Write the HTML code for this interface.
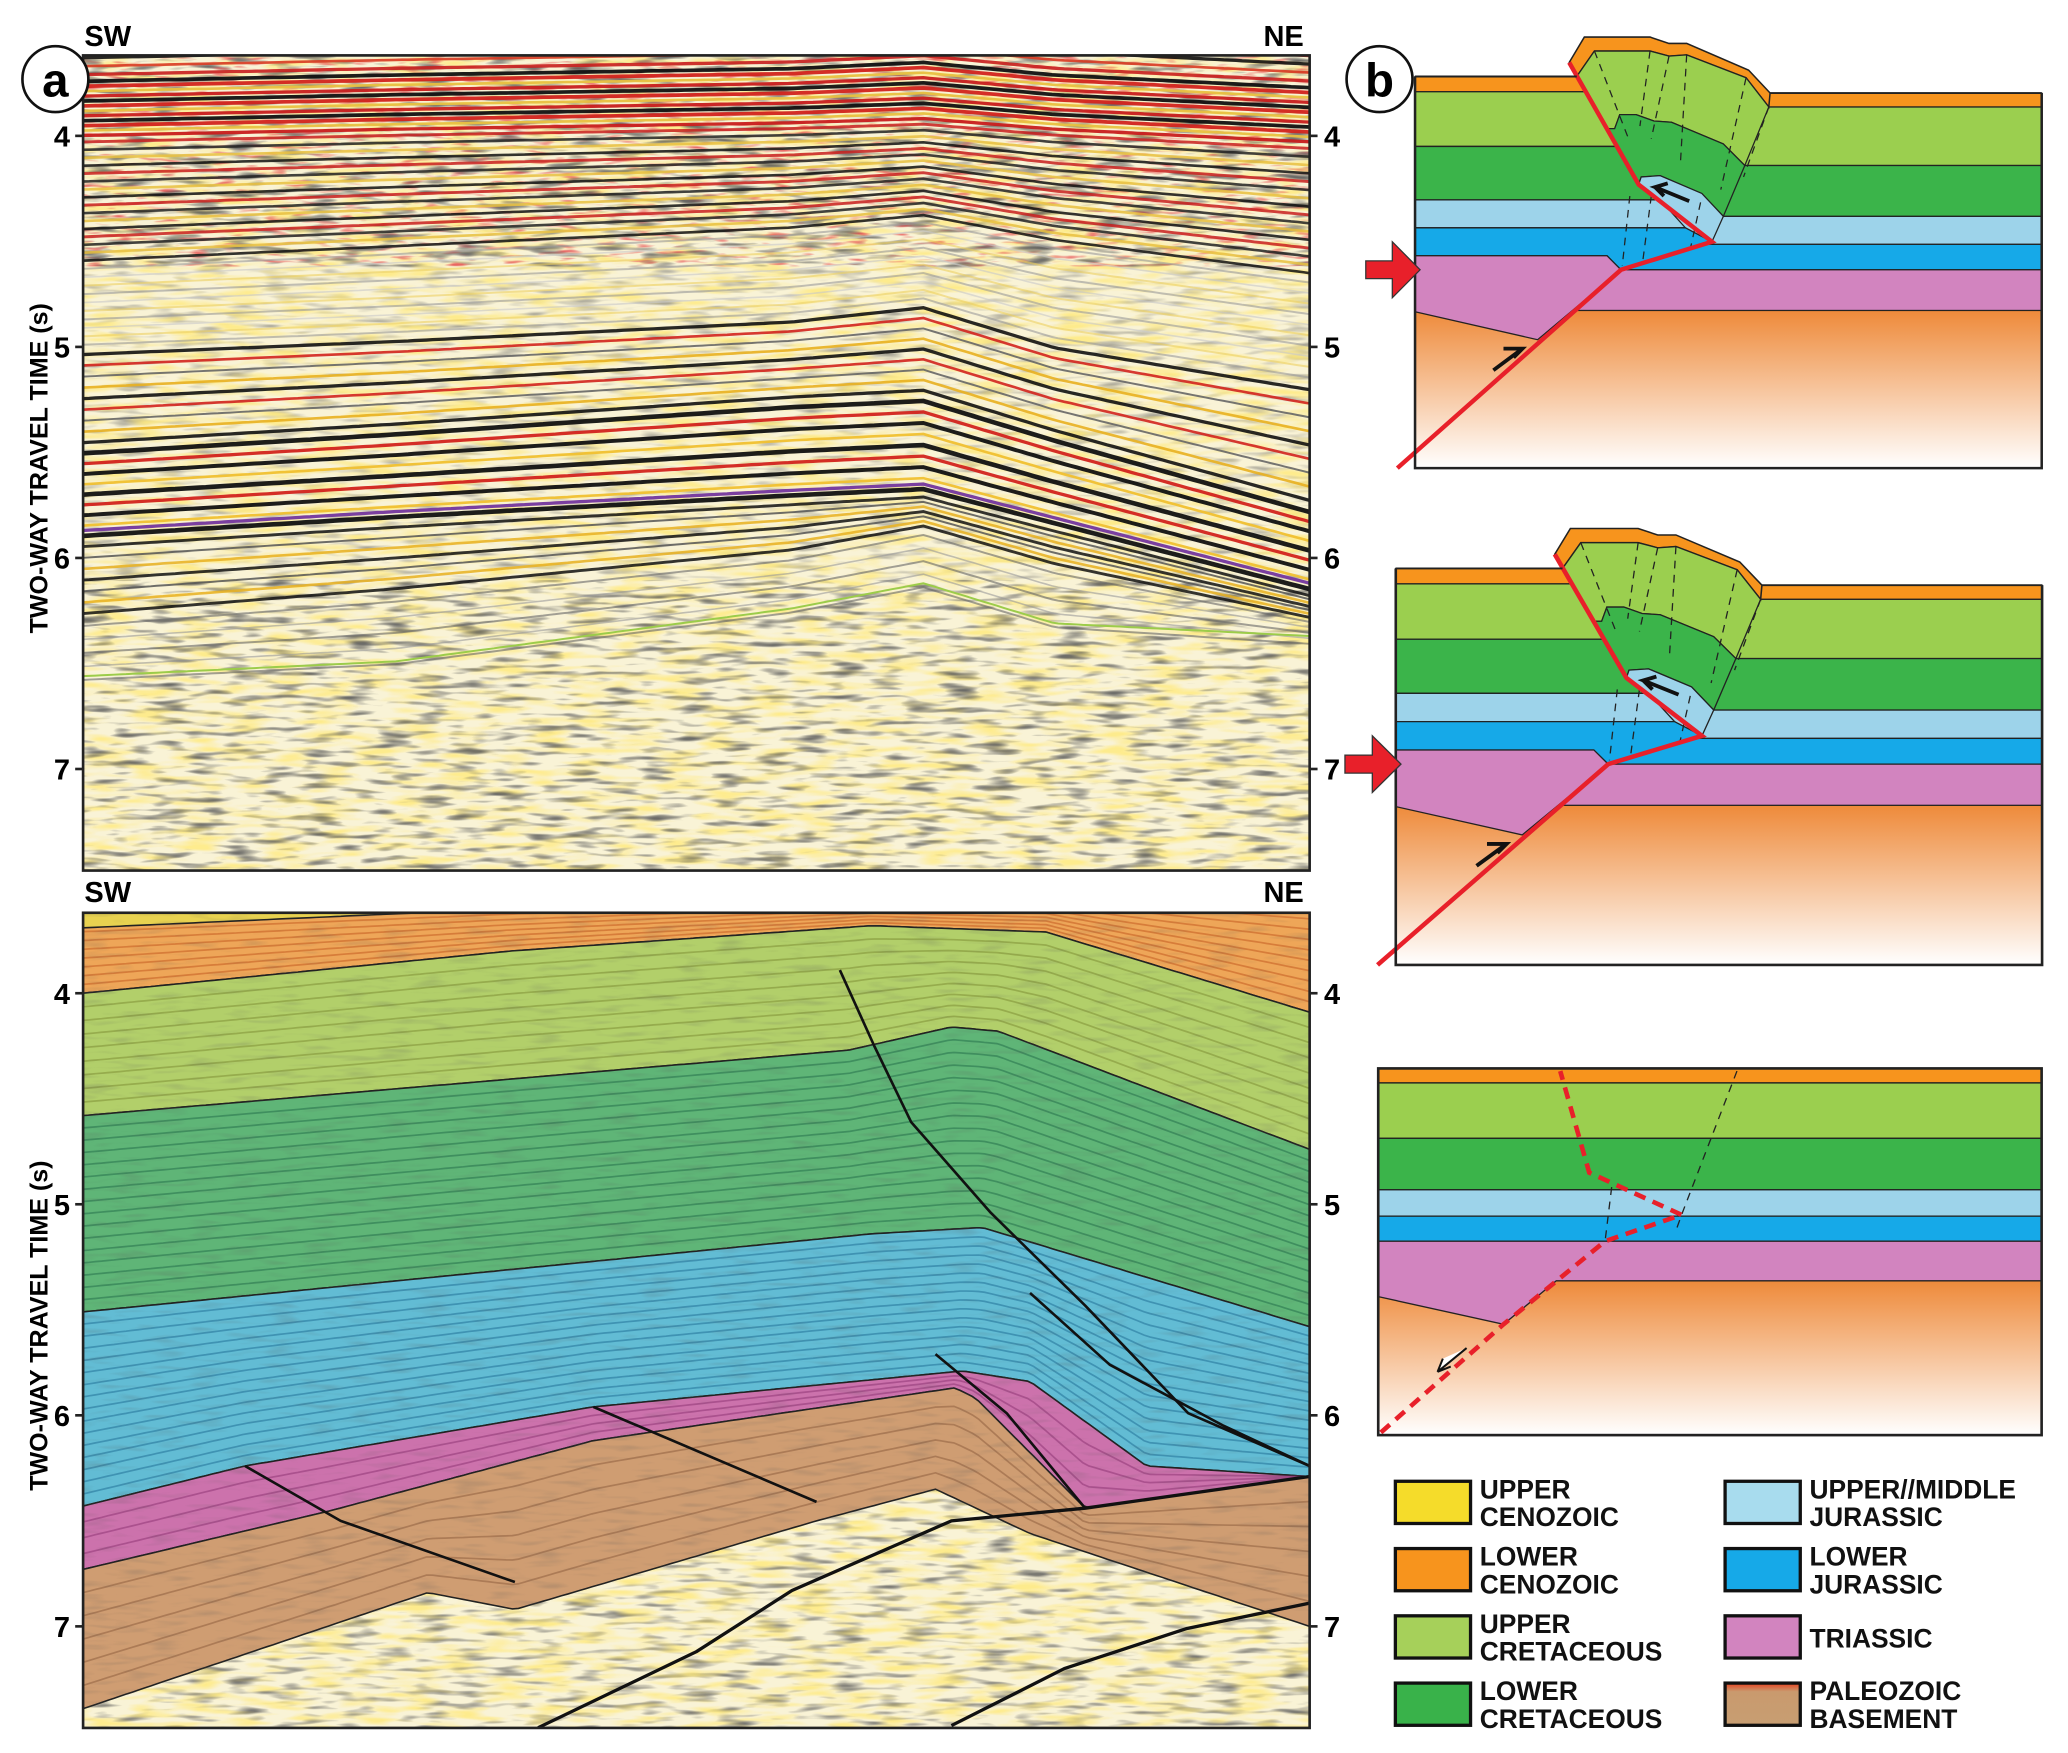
<!DOCTYPE html>
<html><head><meta charset="utf-8">
<style>
html,body{margin:0;padding:0;background:#fff;}
svg{display:block;}
text{font-family:"Liberation Sans",Arial,sans-serif;font-weight:bold;}
.lg{font-family:"Liberation Sans Narrow","Liberation Sans",sans-serif;font-weight:bold;font-size:20px;fill:#111;}
</style></head>
<body>
<svg id="fig" width="2068" height="1753" viewBox="0 0 1568 1329" preserveAspectRatio="none" xmlns="http://www.w3.org/2000/svg">
<defs>
<filter id="nz" x="0" y="0" width="100%" height="100%">
<feTurbulence type="fractalNoise" baseFrequency="0.035 0.22" numOctaves="2" seed="4"/>
<feColorMatrix type="matrix" values="0 0 0 0 0.1  0 0 0 0 0.1  0 0 0 0 0.1  0 0 0 -3 1.45"/>
</filter>
<filter id="nzy" x="0" y="0" width="100%" height="100%">
<feTurbulence type="fractalNoise" baseFrequency="0.03 0.18" numOctaves="2" seed="9"/>
<feColorMatrix type="matrix" values="0 0 0 0 1  0 0 0 0 0.82  0 0 0 0 0.2  0 0 0 3 -1.3"/>
</filter>
<filter id="nzr" x="0" y="0" width="100%" height="100%">
<feTurbulence type="fractalNoise" baseFrequency="0.05 0.3" numOctaves="2" seed="13"/>
<feColorMatrix type="matrix" values="0 0 0 0 0.8  0 0 0 0 0.1  0 0 0 0 0.1  0 0 0 -3.5 1.5"/>
</filter>
<linearGradient id="base" x1="0" y1="0" x2="0" y2="1">
<stop offset="0" stop-color="#ee8a3a"/><stop offset="1" stop-color="#fff"/></linearGradient>
<linearGradient id="paleo" x1="0" y1="0" x2="0" y2="1">
<stop offset="0" stop-color="#e8401e"/><stop offset="0.2" stop-color="#c99a6e"/><stop offset="1" stop-color="#c89e72"/></linearGradient>
<clipPath id="clipA"><rect x="63" y="42" width="930" height="618"/></clipPath>
<clipPath id="clipB"><rect x="63" y="692" width="930" height="618"/></clipPath>
</defs>

<g>
<g clip-path="url(#clipA)" id="gA">
<rect x="63" y="42" width="930" height="618" fill="#f9f3d6"/>
</g>
<rect x="63" y="42" width="930" height="618" fill="none" stroke="#222" stroke-width="2"/>
</g>
<text x="64" y="35" font-size="22">SW</text>
<text x="958" y="35" font-size="22">NE</text>
<g><circle cx="42" cy="60" r="25" fill="#fff" stroke="#111" stroke-width="2"/><text x="42" y="73" font-size="36" text-anchor="middle">a</text></g>
<text transform="translate(36,355) rotate(-90)" font-size="19" text-anchor="middle">TWO-WAY TRAVEL TIME (s)</text>
<g id="ticksA"></g>

<g>
<g clip-path="url(#clipB)" id="gB">
<rect x="63" y="692" width="930" height="618" fill="#f9f3d6"/>
</g>
<rect x="63" y="692" width="930" height="618" fill="none" stroke="#222" stroke-width="2"/>
</g>
<text x="64" y="684" font-size="22">SW</text>
<text x="958" y="684" font-size="22">NE</text>
<text transform="translate(36,1005) rotate(-90)" font-size="19" text-anchor="middle">TWO-WAY TRAVEL TIME (s)</text>
<g id="ticksB"></g>

<g><circle cx="1046" cy="60" r="25" fill="#fff" stroke="#111" stroke-width="2"/><text x="1046" y="73" font-size="36" text-anchor="middle">b</text></g>

<g id="diag" transform="matrix(0.988,0,0,0.976,13,10.3)">
<rect x="1058" y="615" width="496" height="124" fill="url(#base)"/>
<rect x="1058" y="444" width="496" height="11" fill="#f7941d" stroke="#222" stroke-width="1"/>
<rect x="1058" y="455" width="496" height="46" fill="#9bcf4f" stroke="#222" stroke-width="1"/>
<rect x="1058" y="501" width="496" height="40" fill="#3bb44a" stroke="#222" stroke-width="1"/>
<rect x="1058" y="541" width="496" height="22" fill="#9dd3ea" stroke="#222" stroke-width="1"/>
<rect x="1058" y="563" width="496" height="20" fill="#16a9e8" stroke="#222" stroke-width="1"/>
<rect x="1058" y="583" width="496" height="32" fill="#d284bf" stroke="#222" stroke-width="1"/>
<polygon points="1058,431 1186,431 1193,443 1058,443" fill="#f7941d" stroke="#222" stroke-width="1"/>
<polygon points="1058,443 1193,443 1218,486 1058,486" fill="#9bcf4f" stroke="#222" stroke-width="1"/>
<polygon points="1058,486 1218,486 1235,516 1252,528 1058,528" fill="#3bb44a" stroke="#222" stroke-width="1"/>
<polygon points="1058,528 1252,528 1272,550 1058,550" fill="#9dd3ea" stroke="#222" stroke-width="1"/>
<polygon points="1058,550 1272,550 1293,561 1221,583 1210,572 1058,572" fill="#16a9e8" stroke="#222" stroke-width="1"/>
<polygon points="1058,572 1210,572 1221,583 1155,638 1058,616" fill="#d284bf" stroke="#222" stroke-width="1"/>
<polygon points="1180,420 1192,400 1244,400 1259,405 1273,405 1322,426 1339,444 1338,455 1320,432 1273,414 1259,415 1244,411 1200,411 1186,431" fill="#f7941d" stroke="#222" stroke-width="1.2"/>
<polygon points="1186,431 1200,411 1244,411 1259,415 1273,414 1320,432 1338,455 1319,501 1302,484 1261,467 1247,466 1233,461 1220,461 1216,472 1210,472" fill="#9bcf4f" stroke="#222" stroke-width="1"/>
<polygon points="1210,472 1216,472 1220,461 1233,461 1247,466 1261,467 1302,484 1319,501 1302,541 1285,523 1252,509 1237,510 1235,516 1218,486" fill="#3bb44a" stroke="#222" stroke-width="1"/>
<polygon points="1237,510 1252,509 1285,523 1302,541 1293,561 1235,516" fill="#9dd3ea" stroke="#222" stroke-width="1"/>
<g stroke="#222" stroke-width="1" stroke-dasharray="6,5" fill="none">
<line x1="1200" y1="411" x2="1227" y2="480"/><line x1="1244" y1="411" x2="1236" y2="470"/><line x1="1259" y1="415" x2="1245" y2="480"/><line x1="1273" y1="414" x2="1268" y2="500"/><line x1="1320" y1="432" x2="1300" y2="520"/><line x1="1338" y1="455" x2="1318" y2="510"/>
<line x1="1228" y1="525" x2="1222" y2="580"/><line x1="1245" y1="525" x2="1238" y2="578"/><line x1="1284" y1="530" x2="1276" y2="566"/></g>
<polyline points="1044,739 1221,583 1293,561 1235,516 1180,420" fill="none" stroke="#e8202a" stroke-width="3.5"/>
<path d="M1275,529 L1248,518 L1258,515 M1248,518 L1255,525" stroke="#111" stroke-width="3" fill="none"/>
<path d="M1120,662 L1143,645 M1128,645 L1143,645 L1136,652" stroke="#111" stroke-width="3" fill="none"/>
<polyline points="1058,431 1058,739 1554,739 1554,444" fill="none" stroke="#222" stroke-width="2"/>
<line x1="1058" y1="431" x2="1186" y2="431" stroke="#222" stroke-width="1.5"/>
<line x1="1339" y1="444" x2="1554" y2="444" stroke="#222" stroke-width="1.5"/>
<polygon points="1019,576 1040,576 1040,561 1062,583 1040,605 1040,590 1019,590" fill="#e8202a" stroke="#333" stroke-width="1"/>
</g>
<use href="#diag" transform="matrix(0.958,0,0,0.964,59.4,-357.5) matrix(1.0121,0,0,1.0246,-13.16,-10.55)"/>

<g>
<rect x="1045" y="971" width="503" height="117" fill="url(#base)"/>
<rect x="1045" y="810" width="503" height="11" fill="#f7941d" stroke="#222" stroke-width="1"/>
<rect x="1045" y="821" width="503" height="42" fill="#9bcf4f" stroke="#222" stroke-width="1"/>
<rect x="1045" y="863" width="503" height="39" fill="#3bb44a" stroke="#222" stroke-width="1"/>
<rect x="1045" y="902" width="503" height="20" fill="#9dd3ea" stroke="#222" stroke-width="1"/>
<rect x="1045" y="922" width="503" height="19" fill="#16a9e8" stroke="#222" stroke-width="1"/>
<polygon points="1045,941 1548,941 1548,971 1180,971 1140,1004 1045,983" fill="#d284bf" stroke="#222" stroke-width="1"/>
<g stroke="#222" stroke-width="1" stroke-dasharray="6,5" fill="none"><polyline points="1317,812 1275,921 1270,935"/><line x1="1222" y1="900" x2="1217" y2="941"/></g>
<polyline points="1047,1086 1140,1004 1217,941 1275,921 1205,889 1183,812" fill="none" stroke="#e8202a" stroke-width="3.5" stroke-dasharray="9,6"/>
<path d="M1112,1022 L1090,1040 L1094,1030 M1090,1040 L1100,1036" stroke="#111" stroke-width="1.5" fill="#fff"/>
<rect x="1045" y="810" width="503" height="278" fill="none" stroke="#222" stroke-width="2"/>
</g>

<g id="legend"></g>

<script>
const timeTicks = [4, 5, 6, 7];
const hzDist = [0, 0.255, 0.577, 0.685, 0.792, 1];
const hz1 = [3.73, 3.70, 3.67, 3.64, 3.70, 3.76];
const hz2 = [4.01, 3.98, 3.95, 3.93, 3.98, 4.04];
const hz3 = [4.61, 4.54, 4.45, 4.39, 4.51, 4.67];
const hz4 = [5.01, 4.95, 4.86, 4.79, 4.98, 5.17];
const hz5 = [5.48, 5.39, 5.26, 5.23, 5.42, 5.76];
const hz6 = [5.92, 5.83, 5.73, 5.70, 5.86, 6.17];
const hz7 = [6.29, 6.17, 5.98, 5.86, 6.04, 6.29];
const hz8 = [6.61, 6.54, 6.29, 6.17, 6.36, 6.42];
const cenD = [0, 0.349, 0.643, 0.785, 1], cenT = [4.0, 3.80, 3.68, 3.71, 4.09];
const ucrD = [0, 0.624, 0.708, 0.746, 1], ucrT = [4.58, 4.27, 4.16, 4.18, 4.74];
const lcrD = [0, 0.643, 0.733, 1], lcrT = [5.51, 5.14, 5.11, 5.58];
const jurD = [0, 0.132, 0.416, 0.717, 0.772, 0.867, 1], jurT = [6.43, 6.24, 5.96, 5.79, 5.84, 6.24, 6.29];
const triD = [0, 0.203, 0.416, 0.711, 0.728, 0.817, 1], triT = [6.73, 6.45, 6.12, 5.87, 5.92, 6.44, 6.29];
const seiD = [0, 0.281, 0.352, 0.598, 0.695, 0.772, 1], seiT = [7.39, 6.84, 6.92, 6.50, 6.35, 6.56, 7.0];
const ycenD = [0, 0.269, 0.4], ycenT = [3.69, 3.62, 3.60];
const f1D = [0.617, 0.645, 0.675, 0.740, 0.817, 0.901, 1], f1T = [3.89, 4.25, 4.61, 5.04, 5.48, 5.99, 6.24];
const f2D = [0.772, 0.837, 0.93, 1], f2T = [5.42, 5.76, 6.05, 6.24];
const f3D = [0.695, 0.753, 0.817], f3T = [5.71, 5.99, 6.44];
const f4D = [0.416, 0.598], f4T = [5.96, 6.41];
const f5D = [0.132, 0.210, 0.352], f5T = [6.24, 6.50, 6.79];
const f6D = [0.371, 0.50, 0.578, 0.708, 0.817, 1], f6T = [7.48, 7.12, 6.83, 6.50, 6.44, 6.29];
const f7D = [0.708, 0.80, 0.900, 1], f7T = [7.47, 7.20, 7.01, 6.89];
const legendNames = [["UPPER","CENOZOIC"],["LOWER","CENOZOIC"],["UPPER","CRETACEOUS"],["LOWER","CRETACEOUS"],["UPPER//MIDDLE","JURASSIC"],["LOWER","JURASSIC"],["TRIASSIC",""],["PALEOZOIC","BASEMENT"]];
const legendColors = ["#f5dc2a","#f7941d","#a6d05a","#39b24a","#a8dcee","#16a9e8","#d284bf","url(#paleo)"];

const NS = "http://www.w3.org/2000/svg";
const X = d => 63 + d * 930;
const YA = t => 103 + (t - 4) * 160;
const YB = t => 753 + (t - 4) * 160;
function interp(xs, ys, d) {
  if (d <= xs[0]) return ys[0];
  for (let i = 1; i < xs.length; i++) if (d <= xs[i]) { const f = (d - xs[i-1]) / (xs[i] - xs[i-1]); return ys[i-1] + f * (ys[i] - ys[i-1]); }
  return ys[ys.length - 1];
}
function mk(tag, attrs, parent) { const e = document.createElementNS(NS, tag); for (const k in attrs) e.setAttribute(k, attrs[k]); parent.appendChild(e); return e; }
const steps = []; for (let i = 0; i <= 200; i++) steps.push(i / 200);

[["ticksA", YA], ["ticksB", YB]].forEach(([id, Y]) => {
  const g = document.getElementById(id);
  timeTicks.forEach(t => {
    const y = Y(t);
    const l = mk("line", {x1: 57, y1: y, x2: 63, y2: y, stroke: "#222", "stroke-width": 2}, g);
    
    
    mk("line", {x1: 993, y1: y, x2: 999, y2: y, stroke: "#222", "stroke-width": 2}, g);
    const a = mk("text", {x: 47, y: y + 8, "font-size": 22, "text-anchor": "middle"}, g); a.textContent = t;
    
    
    const b = mk("text", {x: 1010, y: y + 8, "font-size": 22, "text-anchor": "middle"}, g); b.textContent = t;
    
    
  });
});

const gA = document.getElementById("gA");
function linePts(fn, Y) { return steps.map(d => X(d).toFixed(1) + "," + Y(fn(d)).toFixed(1)).join(" "); }
function band(h0, h1, n, colors, widths, opac) {
  for (let k = 0; k < n; k++) {
    const f = (k + 0.5) / n;
    const pl = mk("polyline", {points: linePts(d => interp(hzDist, h0, d) * (1 - f) + interp(hzDist, h1, d) * f, YA), fill: "none", stroke: colors[k % colors.length], "stroke-width": widths[k % widths.length], opacity: opac}, gA);
    
    
  }
}
const top0 = hz1.map(v => v - 0.4);
mk("rect", {x: 63, y: 42, width: 930, height: 618, filter: "url(#nz)", opacity: 0.5}, gA);
mk("rect", {x: 63, y: 42, width: 930, height: 618, filter: "url(#nzy)", opacity: 0.8}, gA);
mk("rect", {x: 63, y: 440, width: 930, height: 220, filter: "url(#nz)", opacity: 0.75}, gA);
mk("rect", {x: 63, y: 42, width: 930, height: 160, filter: "url(#nzr)", opacity: 0.9}, gA);
mk("rect", {x: 63, y: 42, width: 930, height: 160, filter: "url(#nz)", opacity: 0.8}, gA);
band(top0, hz1, 10, ["#c81e1e", "#111", "#d83a22"], [2.5, 2.5, 2], 0.9);
band(hz1, hz2, 12, ["#111", "#d2231e", "#e8c040", "#c81e1e"], [2.8, 2.8, 2, 2.5], 0.95);
band(hz2, hz3, 16, ["#c81e1e", "#222", "#e8c040", "#111"], [2.2, 2, 2, 2], 0.85);
band(hz3, hz4, 10, ["#999", "#c8c8c8", "#ecd060"], [1.5, 1.2, 1.5], 0.6);
band(hz4, hz5, 9, ["#111", "#d2231e", "#666", "#e8b020"], [2.5, 2, 1.5, 2], 0.9);
band(hz5, hz6, 9, ["#111", "#d2231e", "#111", "#f0c030"], [3.5, 2.5, 3, 2], 0.95);
band(hz6, hz7, 7, ["#111", "#555", "#e8b020"], [2.2, 1.5, 2], 0.85);
band(hz7, hz8, 5, ["#666", "#999"], [1.5, 1.2], 0.6);
const pur = mk("polyline", {points: linePts(d => interp(hzDist, hz6, d) - 0.05, YA), fill: "none", stroke: "#7a3fa0", "stroke-width": 2.5}, gA);


const grn = mk("polyline", {points: linePts(d => interp(hzDist, hz8, d) - 0.05, YA), fill: "none", stroke: "#9ccc4a", "stroke-width": 1.5}, gA);



const gB = document.getElementById("gB");
mk("rect", {x: 63, y: 692, width: 930, height: 618, filter: "url(#nz)", opacity: 0.75}, gB);
mk("rect", {x: 63, y: 692, width: 930, height: 618, filter: "url(#nzy)", opacity: 0.8}, gB);
function layer(name, aD, aT, bD, bT, fill, lineCol, nLines) {
  const up = steps.map(d => X(d).toFixed(1) + "," + YB(interp(aD, aT, d)).toFixed(1));
  const dn = steps.slice().reverse().map(d => X(d).toFixed(1) + "," + YB(interp(bD, bT, d)).toFixed(1));
  const p = mk("polygon", {points: up.concat(dn).join(" "), fill: fill, stroke: "#222", "stroke-width": 1.2}, gB);
  
  
  for (let k = 1; k < nLines; k++) {
    const f = k / nLines;
    mk("polyline", {points: linePts(d => interp(aD, aT, d) * (1 - f) + interp(bD, bT, d) * f, YB), fill: "none", stroke: lineCol, "stroke-width": 1.3, opacity: 0.5}, gB);
  }
}
const topD = [0, 1], topT = [3.5, 3.5];
layer("lower-cenozoic-layer", topD, topT, cenD, cenT, "#eea658", "#c0541c", 12);
layer("upper-cenozoic-layer", topD, topT, ycenD, ycenT, "#e8d250", "#a08020", 2);
layer("upper-cretaceous-layer", cenD, cenT, ucrD, ucrT, "#b2cf6a", "#7a8a30", 9);
layer("lower-cretaceous-layer", ucrD, ucrT, lcrD, lcrT, "#5fb577", "#1f6a48", 16);
layer("jurassic-layer", lcrD, lcrT, jurD, jurT, "#62bcd4", "#1c6a92", 16);
layer("triassic-layer", jurD, jurT, triD, triT, "#cc72ac", "#8a3070", 4);
layer("paleozoic-layer", triD, triT, seiD, seiT, "#cf9d72", "#8a5a3a", 6);
mk("rect", {x: 63, y: 692, width: 930, height: 618, filter: "url(#nz)", opacity: 0.18}, gB);
function fault(name, D, T, w) {
  const pts = D.map((d, i) => X(d).toFixed(1) + "," + YB(T[i]).toFixed(1)).join(" ");
  const pl = mk("polyline", {points: pts, fill: "none", stroke: "#111", "stroke-width": w, "stroke-linejoin": "round"}, gB);
  
  
}
fault("thrust-fault-main", f1D, f1T, 2);
fault("thrust-fault-2", f2D, f2T, 2);
fault("thrust-fault-3", f3D, f3T, 2);
fault("normal-fault-1", f4D, f4T, 2);
fault("normal-fault-2", f5D, f5T, 2);
fault("basement-thrust-1", f6D, f6T, 2.5);
fault("basement-thrust-2", f7D, f7T, 2.5);

const lg = document.getElementById("legend");
legendNames.forEach((nm, i) => {
  const col = Math.floor(i / 4), row = i % 4;
  const bx = col ? 1308 : 1058, by = 1123 + row * 51;
  const r = mk("rect", {x: bx, y: by, width: 57, height: 32, fill: legendColors[i], stroke: "#111", "stroke-width": 2.5}, lg);
  
  
  const tx = bx + 64;
  const t1 = mk("text", {x: tx, y: nm[1] ? by + 13 : by + 24, class: "lg"}, lg); t1.textContent = nm[0];
  
  
  if (nm[1]) { const t2 = mk("text", {x: tx, y: by + 34, class: "lg"}, lg); t2.textContent = nm[1];
    
     }
});
</script>
</svg>
</body></html>
